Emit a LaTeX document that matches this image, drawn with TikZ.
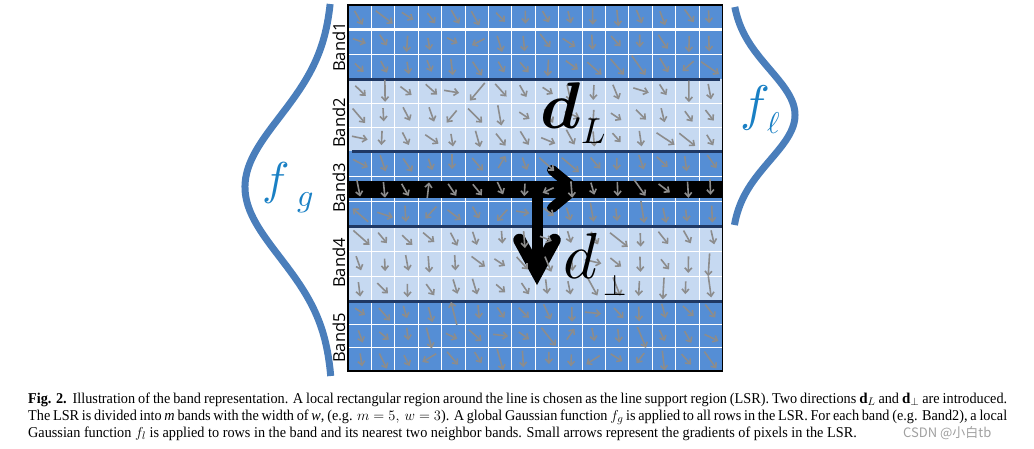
\documentclass[tikz,border=0pt]{standalone}
\usepackage{fontspec}
\setmainfont{Liberation Serif}
\newfontfamily\bandfont{Open Sans}
\newfontfamily\capfont{Liberation Serif}[FakeStretch=0.95]
\newfontfamily\cjkfont{Noto Sans CJK SC}
\usetikzlibrary{arrows.meta,calc}
\definecolor{bandD}{HTML}{558ED5}
\definecolor{bandL}{HTML}{C6D9F1}
\definecolor{sepc}{HTML}{1F3864}
\definecolor{curvec}{HTML}{4A7EBB}
\definecolor{flab}{HTML}{1A80C4}
\definecolor{garr}{HTML}{8C8C8C}
\definecolor{wmark}{HTML}{A0A0A0}
\DeclareFontFamily{OML}{cmmx}{\skewchar\font=127}
\DeclareFontShape{OML}{cmmx}{m}{it}{<->cmmi10}{}
\DeclareFontShape{OML}{cmmx}{b}{it}{<->cmmib10}{}
\DeclareFontFamily{OMS}{cmsyx}{}
\DeclareFontShape{OMS}{cmsyx}{m}{n}{<->cmsy10}{}
\newcommand\mathitb{\usefont{OML}{cmmx}{b}{it}}
\newcommand\mathitm{\usefont{OML}{cmmx}{m}{it}}
\newcommand\mathsym{\usefont{OMS}{cmsyx}{m}{n}}
\tikzset{
  gridline/.style={white, line width=1pt},
  sepline/.style={sepc, line width=3pt},
  garrow/.style={garr, line width=1.6pt, -{Straight Barb[length=4pt,width=7pt]}},
  bigarrow/.style={black, line cap=round, line join=miter},
  gauss/.style={curvec, line width=7pt},
  bandlab/.style={rotate=90, inner sep=0pt, font=\bandfont\fontsize{16.5}{18}\selectfont},
  caption/.style={anchor=base west, inner sep=0pt, font=\capfont\fontsize{15}{16}\selectfont},
  mlab/.style={anchor=base west, inner sep=0pt},
}
\begin{document}
\begin{tikzpicture}[x=1pt,y=-1pt]
\useasboundingbox (0,0) rectangle (1034,448);
% bands
\fill[bandD] (348,5) rectangle (722.5,79);
\fill[bandL] (348,79) rectangle (722.5,151);
\fill[bandD] (348,151) rectangle (722.5,226);
\fill[bandL] (348,226) rectangle (722.5,301);
\fill[bandD] (348,301) rectangle (722.5,371);
% grid
\foreach \i in {1,...,15} \draw[gridline] ({348+23.406*\i},5) -- ({348+23.406*\i},371);
\foreach \t/\b in {5/79,79/151,151/226,226/301,301/371} {
  \draw[gridline] (348,{\t+(\b-\t)/3}) -- (722.5,{\t+(\b-\t)/3});
  \draw[gridline] (348,{\t+2*(\b-\t)/3}) -- (722.5,{\t+2*(\b-\t)/3});
}
\draw[white, line width=2.6pt] (348,29.7) -- (722.5,29.7);
% separators
\draw[sepline] (348,79) -- (720,79);
\draw[sepline] (352,151) -- (723,151);
\draw[sepline] (348,226) -- (723,226);
\draw[sepline] (348,301) -- (723,301);
% line (black row)
\fill[black] (348,181) rectangle (722.5,198);
% big arrows
\draw[bigarrow, line width=11pt, line cap=butt] (537,186) -- (537,268);
\draw[bigarrow, line width=12.5pt] (519.5,240) -- (537,272) -- (554.5,240);
\draw[bigarrow, line width=10pt] (552,170) -- (575,189) -- (552,208);
% small gradient arrows
\pgfmathsetseed{42}
\foreach \r in {0,...,14} {
  \foreach \c in {0,...,15} {
    \pgfmathtruncatemacro\bb{int(\r/3)}
    \pgfmathsetmacro\tp{{5,79,151,226,301,371}[\bb]}
    \pgfmathsetmacro\bt{{5,79,151,226,301,371}[\bb+1]}
    \pgfmathsetmacro\cy{\tp+(\bt-\tp)*(mod(\r,3)+0.5)/3+2*rand}
    \pgfmathsetmacro\cx{348+23.406*(\c+0.5)+2*rand}
    \pgfmathsetmacro\p{rnd}
    \pgfmathsetmacro\ang{\p<0.70 ? -62+30*rand : (\p<0.84 ? -88+6*rand : (\p<0.92 ? -20+15*rand : (\p<0.97 ? -140+15*rand : 60+80*rand)))}
    \pgfmathsetmacro\len{12+5*rnd+ifthenelse(rnd<0.15,7,0)}
    \pgfmathsetmacro\hl{\len/2}
    \pgfmathsetmacro\back{\ang+180}
    \draw[garrow] ($(\cx,\cy)+(\back:\hl pt)$) -- ++(\ang:\len pt);
  }
}
% border
\draw[black, line width=1.8pt] (348,5) rectangle (722.5,371);
% gaussian curves
\draw[gauss] plot[domain=4:376, samples=140, variable=\t] ({333-88*exp(-0.5*((\t-187)/70)^2)}, \t);
\draw[gauss] plot[domain=7:225, samples=120, variable=\t] ({731+64*exp(-0.5*((\t-115)/45.5)^2)}, \t);
% band labels
\node[bandlab] (b1) at (339,47) {Band1};
\node[bandlab] (b2) at (339,123) {Band2};
\node[bandlab] (b3) at (339,188) {Band3};
\node[bandlab] (b4) at (339,263) {Band4};
\node[bandlab] (b5) at (339,338) {Band5};
% direction labels
\node[mlab] (dL) at (540,128) {\fontsize{66}{66}\mathitb d};
\node[mlab] (dLs) at (581,143) {\fontsize{36}{36}\mathitm L};
\node[mlab] (dP) at (563,278) {\fontsize{65}{65}\mathitm d};
\node[mlab] (dPs) at (603,295) {\fontsize{30}{30}\mathsym ?};
% gaussian labels
\node[mlab, text=flab] (fg) at (262,194) {\fontsize{46}{46}\mathitm f};
\node[mlab, text=flab] (fgs) at (297,206) {\fontsize{32}{32}\mathitm g};
\node[mlab, text=flab] (fl) at (740,120) {\fontsize{50}{50}\mathitm f};
\node[mlab, text=flab] (fls) at (767,133) {\fontsize{30}{30}\mathitm `};
% caption
\node[caption] (c1) at (28,403) {\makebox[979pt][s]{\textbf{Fig. 2.}\ \ Illustration of the band representation. A local rectangular region around the line is chosen as the line support region (LSR). Two directions $\mathbf{d}_L$ and $\mathbf{d}_\perp$ are introduced.}};
\node[caption] (c2) at (28,420) {\makebox[979pt][s]{The LSR is divided into \textit{m} bands with the width of \textit{w}, (e.g. $m=5,\ w=3$). A global Gaussian function $f_g$ is applied to all rows in the LSR. For each band (e.g. Band2), a local}};
\node[caption] (c3) at (28,437) {Gaussian function $f_l$ is applied to rows in the band and its nearest two neighbor bands. Small arrows represent the gradients of pixels in the LSR.};
\node[anchor=base west, inner sep=0pt, text=wmark, font=\cjkfont] (wm) at (903,437) {\fontsize{13}{14}\selectfont CSDN @小白tb};
\end{tikzpicture}
\end{document}
